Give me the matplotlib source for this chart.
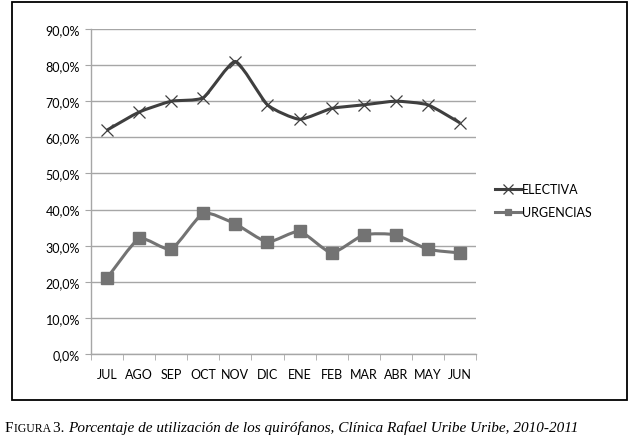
#!/usr/bin/env python3
"""
Operating room utilization by month, electiva vs urgencias.
"""

import matplotlib
matplotlib.use('Agg')
import matplotlib.pyplot as plt
from matplotlib.path import Path
from matplotlib.patches import PathPatch, Rectangle
from matplotlib.ticker import FuncFormatter, MultipleLocator
import numpy as np

plt.rcParams.update({
    'font.family': ['Lato', 'DejaVu Sans'],
    'font.size': 8,
})

# Data (percent)
months = ['JUL', 'AGO', 'SEP', 'OCT', 'NOV', 'DIC', 'ENE', 'FEB', 'MAR', 'ABR', 'MAY', 'JUN']
electiva = [62, 67, 70, 71, 81, 69, 65, 68, 69, 70, 69, 64]
urgencias = [21, 32, 29, 39, 36, 31, 34, 28, 33, 33, 29, 28]

c_elec = '#3f3f3f'
c_urg = '#737373'
c_grid = '#a6a6a6'


def smooth_path(x, y, tension=0.09):
    # gently smoothed line: cubic bezier segments through the points
    x = np.asarray(x, float)
    y = np.asarray(y, float)
    n = len(x)
    verts = [(x[0], y[0])]
    codes = [Path.MOVETO]
    for i in range(n - 1):
        x0, y0 = (x[i - 1], y[i - 1]) if i > 0 else (x[i], y[i])
        x3, y3 = (x[i + 2], y[i + 2]) if i + 2 < n else (x[i + 1], y[i + 1])
        c1 = (x[i] + (x[i + 1] - x0) * tension, y[i] + (y[i + 1] - y0) * tension)
        c2 = (x[i + 1] - (x3 - x[i]) * tension, y[i + 1] - (y3 - y[i]) * tension)
        verts += [c1, c2, (x[i + 1], y[i + 1])]
        codes += [Path.CURVE4] * 3
    return Path(verts, codes)


fig = plt.figure(figsize=(6.35, 4.39), dpi=100)
ax = fig.add_axes([91 / 635, 1 - 355 / 439, 385 / 635, 325 / 439])

xs = np.arange(len(months))
ax.add_patch(PathPatch(smooth_path(xs, electiva), facecolor='none',
                       edgecolor=c_elec, lw=2.2, zorder=3))
ax.add_patch(PathPatch(smooth_path(xs, urgencias), facecolor='none',
                       edgecolor=c_urg, lw=2.2, zorder=3))
ax.plot(xs, electiva, ls='none', marker='x', ms=9, mew=0.9, color=c_elec, zorder=4)
ax.plot(xs, urgencias, ls='none', marker='s', ms=8, color=c_urg, zorder=4)

ax.set_xlim(-0.5, len(months) - 0.5)
ax.set_ylim(0, 90)
ax.yaxis.set_major_locator(MultipleLocator(10))
ax.yaxis.set_major_formatter(FuncFormatter(lambda v, p: f'{v:.1f}%'.replace('.', ',')))
ax.yaxis.grid(True, color=c_grid, lw=1.0)
ax.set_axisbelow(True)

ax.set_xticks(xs)
ax.set_xticklabels(months)
ax.set_xticks(np.arange(-0.5, len(months)), minor=True)
ax.tick_params(axis='x', which='major', length=0, pad=10, labelsize=9, colors='black')
ax.tick_params(axis='x', which='minor', length=4, color=c_grid, direction='out')
ax.tick_params(axis='y', length=4, color=c_grid, pad=4, labelsize=9)

for s in ['top', 'right']:
    ax.spines[s].set_visible(False)
for s in ['left', 'bottom']:
    ax.spines[s].set_color(c_grid)
    ax.spines[s].set_linewidth(1.0)

# Legend drawn by hand to match spacing
for yy, col, mk, ms, lab in [(190, c_elec, 'x', 7, 'ELECTIVA'),
                             (213, c_urg, 's', 5, 'URGENCIAS')]:
    fy = 1 - yy / 439
    fig.add_artist(plt.Line2D([495 / 635, 521 / 635], [fy, fy], color=col, lw=2.2,
                              transform=fig.transFigure))
    fig.add_artist(plt.Line2D([508 / 635], [fy], marker=mk, ms=ms, color=col,
                              mew=0.9, transform=fig.transFigure))
    fig.text(522 / 635, fy, lab, ha='left', va='center', fontsize=9)

# Outer frame
fig.add_artist(Rectangle((12 / 635, 1 - 401 / 439), 615 / 635, 398 / 439,
                         fill=False, edgecolor='black', lw=1.3,
                         transform=fig.transFigure))

# Caption
cy = 1 - 432 / 439
t1 = fig.text(5 / 635, cy, 'F', fontsize=11, family='Liberation Serif', va='baseline')
t2 = plt.annotate('IGURA ', xy=(1, 0), xycoords=t1, fontsize=8.5,
                  family='Liberation Serif', va='bottom')
t3 = plt.annotate('3. ', xy=(1, 0), xycoords=t2, fontsize=11,
                  family='Liberation Serif', va='bottom')
plt.annotate('Porcentaje de utilización de los quirófanos, Clínica Rafael Uribe Uribe, 2010-2011',
             xy=(1, 0), xycoords=t3, fontsize=11, family='Liberation Serif',
             style='italic', va='bottom')

plt.savefig('out.png', dpi=100, facecolor='white')
plt.close()
